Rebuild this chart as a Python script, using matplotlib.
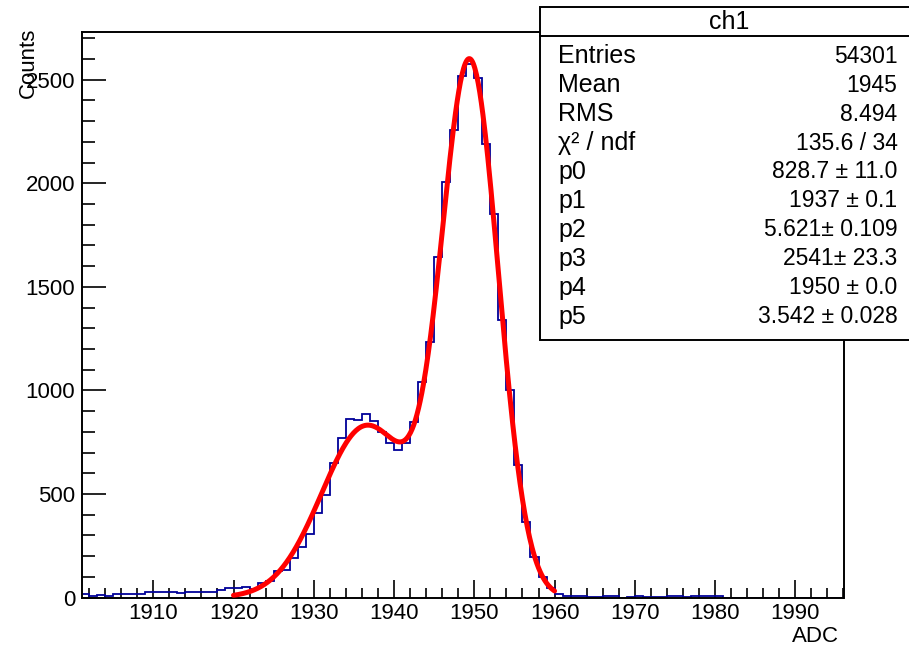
# ROOT style histogram of ch1 ADC with double gaussian fit

import numpy as np
import matplotlib.pyplot as plt
from matplotlib.patches import Rectangle
from matplotlib.lines import Line2D
from matplotlib.ticker import MultipleLocator

plt.rcParams['font.family'] = ['Liberation Sans', 'DejaVu Sans']

# histogram: one bin per ADC count, lower edges 1901 .. 1995
bin_lo = 1901
counts = [15, 5, 14, 8, 15, 15, 15, 15, 25, 25,        # 1901-1910
          25, 25, 24, 25, 25, 25, 25, 36, 44, 44,      # 1911-1920
          52, 42, 72, 78, 130, 135, 189, 245, 305, 406,  # 1921-1930
          494, 650, 768, 864, 856, 885, 853, 800, 744, 712,  # 1931-1940
          744, 848, 1040, 1234, 1644, 2006, 2255, 2516, 2577, 2509,  # 1941-1950
          2190, 1850, 1340, 1000, 639, 366, 197, 100, 44, 15,  # 1951-1960
          9, 8, 7, 2, 2, 6, 5, 0, 2, 8,                # 1961-1970
          3, 2, 3, 8, 8, 3, 7, 7, 7, 7,                # 1971-1980
          0, 0, 0, 0, 0, 0, 0, 0, 0, 0,                # 1981-1990
          0, 0, 0, 0, 0]                               # 1991-1995

# fit: gaus(p0,p1,p2) + gaus(p3,p4,p5), range 1920-1960
fit_pars = [828.7, 1936.6, 5.621, 2541.0, 1949.5, 3.542]
fit_range = (1920, 1960)

# stats box text
stat_labels = ["Entries", "Mean", "RMS", "χ² / ndf", "p0", "p1", "p2", "p3", "p4", "p5"]
stat_values = ["54301", "1945", "8.494", "135.6 / 34", "828.7 ± 11.0", "1937 ± 0.1",
               "5.621± 0.109", "2541± 23.3", "1950 ± 0.0", "3.542 ± 0.028"]
hist_name = "ch1"


def double_gaus(x, p):
    return (p[0] * np.exp(-0.5 * ((x - p[1]) / p[2]) ** 2)
            + p[3] * np.exp(-0.5 * ((x - p[4]) / p[5]) ** 2))


W, H = 909, 647
fig = plt.figure(figsize=(W / 100, H / 100), dpi=100)
ax = fig.add_axes([82.3 / W, 1 - 597.5 / H, (843.5 - 82.3) / W, (597.5 - 31.5) / H])

edges = np.arange(bin_lo, bin_lo + len(counts) + 1)
ax.stairs(counts, edges, color='#000099', linewidth=1.3, zorder=2)

xf = np.linspace(fit_range[0], fit_range[1], 400)
ax.plot(xf, double_gaus(xf, fit_pars), color='#ff0000', linewidth=3.6,
        solid_capstyle='round', zorder=3)

ax.set_xlim(1901.16, 1996)
ax.set_ylim(0, 2733)

# ticks only bottom / left, pointing inward
ax.xaxis.set_major_locator(MultipleLocator(10))
ax.xaxis.set_minor_locator(MultipleLocator(2))
ax.yaxis.set_major_locator(MultipleLocator(500))
ax.yaxis.set_minor_locator(MultipleLocator(100))
ax.tick_params(axis='x', which='major', direction='in', length=12.7, width=1.2, pad=4.2, labelsize=16)
ax.tick_params(axis='x', which='minor', direction='in', length=7.2, width=1.2)
ax.tick_params(axis='y', which='major', direction='in', length=17, width=1.2, pad=5, labelsize=16)
ax.tick_params(axis='y', which='minor', direction='in', length=9.1, width=1.2)
for s in ax.spines.values():
    s.set_linewidth(1.4)

# axis titles placed like ROOT (right / top aligned)
fig.text(28 / W, 1 - 28 / H, "Counts", rotation=90, ha='center', va='top', fontsize=16)
fig.text(838.5 / W, 1 - 636 / H, "ADC", ha='right', va='center', fontsize=16)

# stats box
x0, x1 = 539.5, 930
y0, y1 = 7.3, 340
box = Rectangle((x0 / W, 1 - y1 / H), (x1 - x0) / W, (y1 - y0) / H,
                transform=fig.transFigure, facecolor='white', edgecolor='black',
                linewidth=1.4, zorder=5, clip_on=False)
fig.add_artist(box)
fig.add_artist(Line2D([x0 / W, x1 / W], [1 - 36 / H, 1 - 36 / H], transform=fig.transFigure,
                      color='black', linewidth=1.4, zorder=6))
fig.text(729 / W, 1 - 22 / H, hist_name, ha='center', va='center', fontsize=18, zorder=7)

row0, step = 56.2, 28.95
for i, (lab, val) in enumerate(zip(stat_labels, stat_values)):
    yy = 1 - (row0 + i * step) / H
    fig.text(558.5 / W, yy, lab, ha='left', va='center', fontsize=18, zorder=7)
    fig.text(897.5 / W, yy, val, ha='right', va='center', fontsize=16.5, zorder=7)

fig.savefig("out.png", dpi=100)
